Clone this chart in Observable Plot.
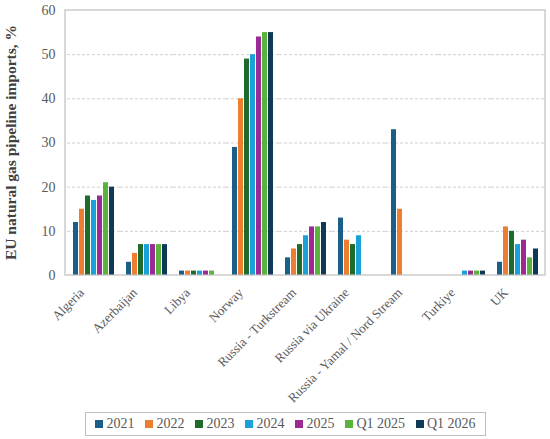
<!DOCTYPE html>
<html><head><meta charset="utf-8">
<script src="https://cdn.jsdelivr.net/npm/d3@7"></script>
<script src="https://cdn.jsdelivr.net/npm/@observablehq/plot@0.6"></script>
<style>
body{margin:0;background:#fff;font-family:"Liberation Serif",serif;}
#legend{margin-left:85px;margin-top:1px;width:401px;height:24px;box-sizing:border-box;border:1px solid #bfbfbf;display:flex;align-items:center;justify-content:center;gap:11px;font-size:14px;color:#595959;white-space:nowrap;}
#legend .it{display:flex;align-items:center;gap:3px;white-space:nowrap;}
#legend .sw{width:8px;height:8px;display:inline-block;}
</style></head><body><div id="chart"></div><div id="legend"></div>
<script>
const countries = ["Algeria","Azerbaijan","Libya","Norway","Russia - Turkstream","Russia via Ukraine","Russia - Yamal / Nord Stream","Turkiye","UK"];
const seriesNames = ["2021","2022","2023","2024","2025","Q1 2025","Q1 2026"];
const colors = ["#1b5f88","#ed7d31","#1e6b2b","#1ba1d9","#9b2a97","#5ab33b","#0e3a55"];
const v2021   = [12, 3, 1, 29,  4, 13, 33, null, 3];
const v2022   = [15, 5, 1, 40,  6,  8, 15, null, 11];
const v2023   = [18, 7, 1, 49,  7,  7, null, null, 10];
const v2024   = [17, 7, 1, 50,  9,  9, null, 1, 7];
const v2025   = [18, 7, 1, 54, 11, null, null, 1, 8];
const vQ12025 = [21, 7, 1, 55, 11, null, null, 1, 4];
const vQ12026 = [20, 7, null, 55, 12, null, null, 1, 6];
const yTicks = [0,10,20,30,40,50,60];
const yLabel = "EU natural gas pipeline imports, %";

const seriesValues = [v2021, v2022, v2023, v2024, v2025, vQ12025, vQ12026];
const data = [];
seriesNames.forEach((s, i) => countries.forEach((c, j) => {
  const v = seriesValues[i][j];
  if (v != null) data.push({country: c, series: s, value: v});
}));

const W = 550, H = 411, mL = 65, mR = 5, mT = 10, mB = 136;
const chart = Plot.plot({
  width: W, height: H, marginLeft: mL, marginRight: mR, marginTop: mT, marginBottom: mB,
  style: {fontFamily: "Liberation Serif, serif", fontSize: "14px", color: "#595959", background: "white"},
  fx: {domain: countries, padding: 0, label: null, tickRotate: -45, tickSize: 0, tickPadding: 12},
  x: {domain: seriesNames, axis: null, paddingInner: 0.25, paddingOuter: 0.85},
  y: {domain: [0, 60], ticks: yTicks, label: null, tickSize: 0, tickPadding: 12},
  color: {domain: seriesNames, range: colors},
  marks: [
    Plot.gridY(yTicks.filter(d => d > 0 && d < 60), {stroke: "#d0d0d0", strokeOpacity: 1, strokeDasharray: "3,2"}),
    Plot.barY(data, {fx: "country", x: "series", y: "value", fill: "series"})
  ]
});
document.getElementById("chart").appendChild(chart);

const ys = chart.scale("y");
const svg = d3.select(chart);
// shift rotated category labels so their ends sit left of and below the group centres, as in the reference
svg.selectAll('g[aria-label="fx-axis tick label"]').each(function() {
  const t = this.getAttribute("transform") || "";
  this.setAttribute("transform", `translate(-12,3) ${t}`);
  this.setAttribute("font-size", "13px");
  d3.select(this).selectAll("text").style("font-size", "13px");
});
const yTop = ys.apply(60), yBot = ys.apply(0);
svg.append("rect").attr("x", mL).attr("y", yTop).attr("width", W - mL - mR).attr("height", yBot - yTop)
  .attr("fill", "none").attr("stroke", "#bfbfbf").attr("stroke-width", 1.2);
svg.append("text").attr("transform", `translate(12,${(yTop + yBot) / 2}) rotate(-90)`)
  .attr("text-anchor", "middle").attr("dominant-baseline", "middle")
  .attr("font-weight", "bold").attr("font-size", "15.5px").attr("fill", "#404040")
  .attr("font-family", "Liberation Serif, serif").text(yLabel);

const leg = d3.select("#legend");
seriesNames.forEach((s, i) => {
  const it = leg.append("span").attr("class", "it");
  it.append("span").attr("class", "sw").style("background", colors[i]);
  it.append("span").text(s);
});
</script></body></html>
